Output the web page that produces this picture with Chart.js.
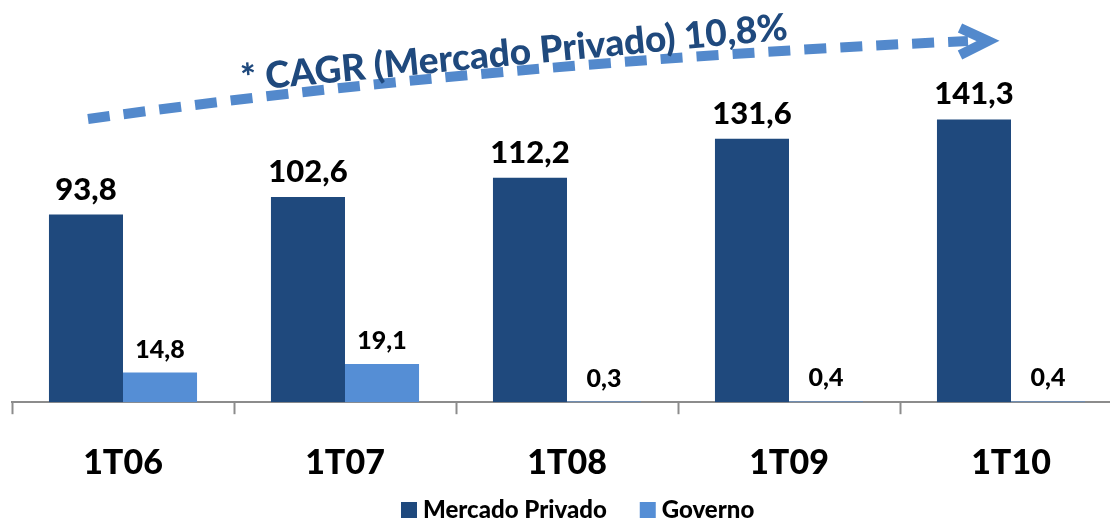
<!DOCTYPE html>
<html>
<head>
<meta charset="utf-8">
<script src="https://cdn.jsdelivr.net/npm/chart.js@4.4.1/dist/chart.umd.min.js"></script>
<style>
  html, body { margin: 0; padding: 0; background: #ffffff; overflow: hidden; }
  #wrap { width: 1110px; height: 521px; overflow: hidden; position: relative; }
  canvas { position: absolute; left: 0; top: 0; }
</style>
</head>
<body>
<div id="wrap"><canvas id="c" width="1122" height="521"></canvas></div>
<script>
const categories = ['1T06', '1T07', '1T08', '1T09', '1T10'];
const mercadoPrivado = [93.8, 102.6, 112.2, 131.6, 141.3];
const governo = [14.8, 19.1, 0.3, 0.4, 0.4];
const seriesNames = ['Mercado Privado', 'Governo'];
const annotationText = '* CAGR (Mercado Privado) 10,8%';

const FONT = 'Lato, "Open Sans", sans-serif';
const DARK = '#1F497D';
const LIGHT = '#558ED5';

function fmt(v) { return v.toFixed(1).replace('.', ','); }

const labelsPlugin = {
  id: 'valueLabels',
  afterDatasetsDraw(chart) {
    const ctx = chart.ctx;
    ctx.save();
    ctx.fillStyle = '#000';
    ctx.textAlign = 'center';
    ctx.textBaseline = 'alphabetic';
    chart.data.datasets.forEach((ds, di) => {
      const meta = chart.getDatasetMeta(di);
      ctx.font = (di === 0 ? '900 31px ' : '900 25px ') + FONT;
      meta.data.forEach((bar, i) => {
        ctx.fillText(fmt(ds.data[i]), bar.x, bar.y - 15);
      });
    });
    ctx.restore();
  }
};

const legendPlugin = {
  id: 'customLegend',
  afterDraw(chart) {
    const ctx = chart.ctx;
    ctx.save();
    ctx.font = '900 24px ' + FONT;
    ctx.textBaseline = 'alphabetic';
    ctx.textAlign = 'left';
    let x = 401;
    chart.data.datasets.forEach(ds => {
      ctx.fillStyle = ds.backgroundColor;
      ctx.fillRect(x, 502, 16, 16);
      ctx.fillStyle = '#000';
      ctx.fillText(ds.label, x + 22, 518);
      x += 22 + ctx.measureText(ds.label).width + 33;
    });
    ctx.restore();
  }
};

const arrowPlugin = {
  id: 'cagrArrow',
  afterDraw(chart) {
    const ctx = chart.ctx;
    ctx.save();
    ctx.strokeStyle = '#5389CC';
    ctx.lineWidth = 10;
    ctx.setLineDash([22, 14]);
    ctx.beginPath();
    ctx.moveTo(88, 119);
    ctx.quadraticCurveTo(500, 62, 968, 41);
    ctx.stroke();
    ctx.setLineDash([]);
    ctx.lineJoin = 'miter';
    ctx.beginPath();
    ctx.moveTo(960, 28);
    ctx.lineTo(988, 41);
    ctx.lineTo(960, 55);
    ctx.stroke();
    // text
    ctx.translate(242, 91);
    ctx.rotate(-5.4 * Math.PI / 180);
    ctx.fillStyle = '#1F497D';
    ctx.font = '900 37px ' + FONT;
    ctx.textAlign = 'left';
    ctx.textBaseline = 'alphabetic';
    ctx.fillText(annotationText, 0, 0);
    ctx.restore();
  }
};

new Chart(document.getElementById('c'), {
  type: 'bar',
  data: {
    labels: categories,
    datasets: [
      { label: seriesNames[0], data: mercadoPrivado, backgroundColor: DARK,
        categoryPercentage: 0.667, barPercentage: 1.0 },
      { label: seriesNames[1], data: governo, backgroundColor: LIGHT,
        categoryPercentage: 0.667, barPercentage: 1.0 }
    ]
  },
  options: {
    responsive: false,
    animation: false,
    layout: { padding: { left: 12, right: 0, top: 2, bottom: 10 } },
    plugins: { legend: { display: false }, tooltip: { enabled: false } },
    scales: {
      x: {
        grid: { display: true, drawOnChartArea: false, drawTicks: true, tickLength: 12,
                tickColor: '#8c8c8c', tickWidth: 2, offset: true },
        border: { display: true, color: '#8c8c8c', width: 2 },
        ticks: { color: '#000', font: { family: FONT, size: 34, weight: '900' }, padding: 28 }
      },
      y: { display: false, min: 0, max: 200 }
    }
  },
  plugins: [labelsPlugin, legendPlugin, arrowPlugin]
});
</script>
</body>
</html>
